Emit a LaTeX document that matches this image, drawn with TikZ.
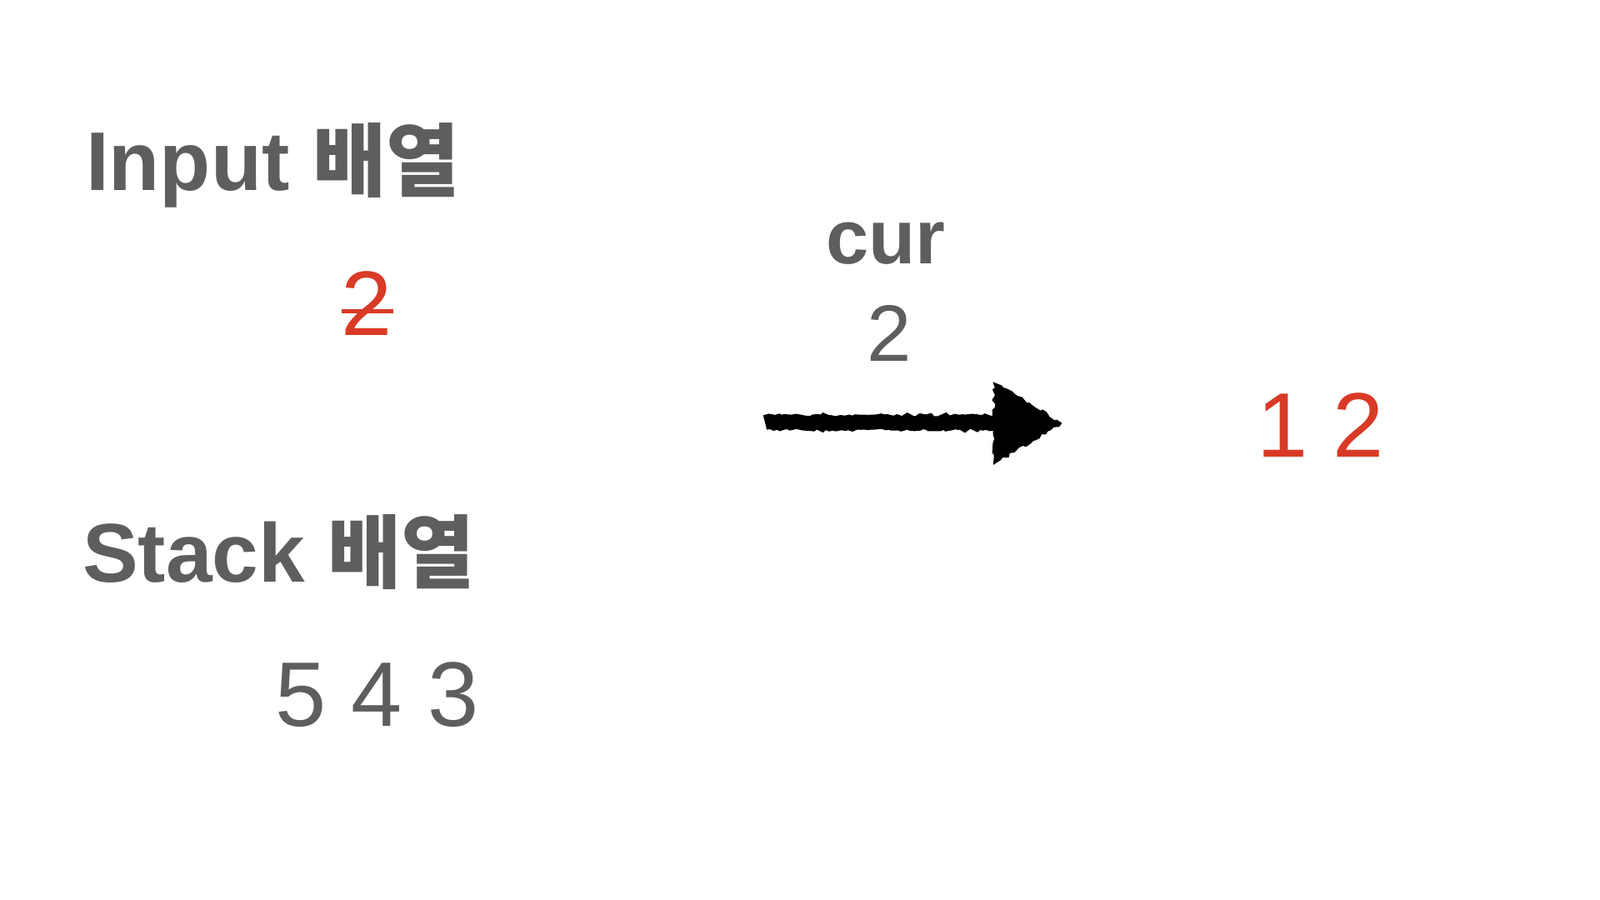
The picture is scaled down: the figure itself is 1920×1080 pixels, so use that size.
\documentclass[tikz,border=0pt]{standalone}
\usepackage{fontspec}
\setmainfont{Liberation Sans}
\newfontfamily\kr{Noto Sans CJK KR}
\usetikzlibrary{decorations.pathmorphing}
\definecolor{txtgrey}{HTML}{5E5E5E}
\definecolor{txtred}{HTML}{D93A26}
\newcommand{\krbig}[1]{{\kr\bfseries\fontsize{48pt}{58pt}\selectfont #1}}
\begin{document}
\begin{tikzpicture}[x=0.5pt,y=-0.5pt,
  every node/.style={inner sep=0pt, outer sep=0pt, anchor=base west},
  title/.style={text=txtgrey, font=\fontsize{50pt}{60pt}\selectfont\bfseries},
  curlabel/.style={text=txtgrey, font=\fontsize{46pt}{55pt}\selectfont\bfseries},
  greynum/.style={text=txtgrey, font=\fontsize{55pt}{66pt}\selectfont},
  curnum/.style={text=txtgrey, font=\fontsize{48pt}{58pt}\selectfont},
  rednum/.style={text=txtred, font=\fontsize{55pt}{66pt}\selectfont},
  strike/.style={draw=txtred, line width=2.5pt},
  shaft/.style={draw=black, line width=9pt, decorate, decoration={random steps, segment length=2pt, amplitude=0.8pt}},
  head/.style={fill=black, draw=black, line width=1pt, decorate, decoration={random steps, segment length=2pt, amplitude=1pt}}
]
\useasboundingbox[fill=white] (0,0) rectangle (1920,1080);
\node[title] (input) at (103,229) {Input \krbig{배열}};
\node[rednum] (del) at (409,402) {2};
\draw[strike] (410,373) -- (472,373);
\node[curlabel] (cur) at (991,317) {cur};
\node[curnum] (curval) at (1040,433) {2};
\coordinate (arrS) at (918,507);
\coordinate (arrB) at (1200,507);
\coordinate (arrE) at (1273,508);
\draw[shaft] (arrS) -- (arrB);
\path[head] (1193,460) -- (arrE) -- (1193,556) -- cycle;
\node[rednum] (out) at (1508,548) {1 2};
\node[title] (stack) at (99,698) {Stack \krbig{배열}};
\node[greynum] (stackval) at (330,871) {5 4 3};
\end{tikzpicture}
\end{document}
